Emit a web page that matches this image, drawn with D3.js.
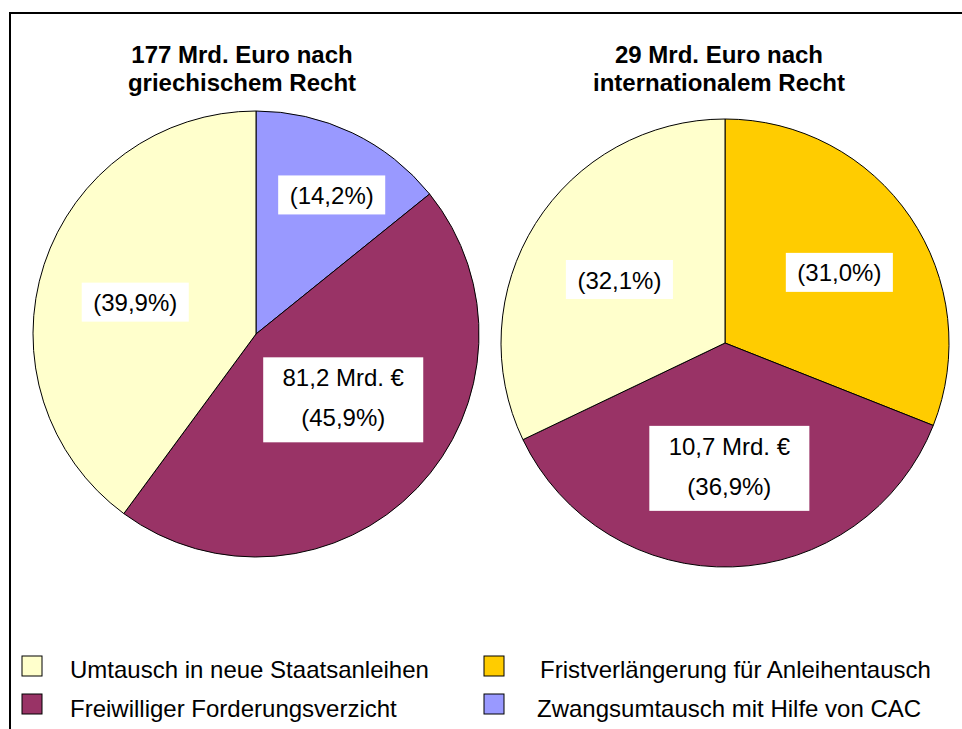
<!DOCTYPE html>
<html>
<head>
<meta charset="utf-8">
<script src="https://cdn.jsdelivr.net/npm/d3@7"></script>
<style>
  body { margin: 0; background: #fff; }
  svg { display: block; font-family: Arial, "Liberation Sans", sans-serif; }
</style>
</head>
<body>
<svg id="chart" width="962" height="729"></svg>
<script>
// categories (legend order)
const categories = [
  'Umtausch in neue Staatsanleihen',
  'Fristverlängerung für Anleihentausch',
  'Freiwilliger Forderungsverzicht',
  'Zwangsumtausch mit Hilfe von CAC',
];
const colors = {
  'Umtausch in neue Staatsanleihen': '#ffffcc',
  'Fristverlängerung für Anleihentausch': '#ffcc00',
  'Freiwilliger Forderungsverzicht': '#993366',
  'Zwangsumtausch mit Hilfe von CAC': '#9999ff',
};

// pie 1: griechisches Recht (clockwise from 12 o'clock)
const greekTitle = ['177 Mrd. Euro nach', 'griechischem Recht'];
const greekCats = ['Zwangsumtausch mit Hilfe von CAC', 'Freiwilliger Forderungsverzicht', 'Umtausch in neue Staatsanleihen'];
const greekShares = [14.2, 45.9, 39.9];
const greekAmounts = [null, '81,2 Mrd. €', null];

// pie 2: internationales Recht
const intlTitle = ['29 Mrd. Euro nach', 'internationalem Recht'];
const intlCats = ['Fristverlängerung für Anleihentausch', 'Freiwilliger Forderungsverzicht', 'Umtausch in neue Staatsanleihen'];
const intlShares = [31.0, 36.9, 32.1];
const intlAmounts = [null, '10,7 Mrd. €', null];

const svg = d3.select('#chart');
const fmt = (v) => '(' + v.toFixed(1).replace('.', ',') + '%)';

// frame lines (top + left)
svg.append('line').attr('x1', 10).attr('x2', 962).attr('y1', 13).attr('y2', 13)
  .attr('stroke', '#000').attr('stroke-width', 2);
svg.append('line').attr('x1', 10).attr('x2', 10).attr('y1', 12).attr('y2', 729)
  .attr('stroke', '#000').attr('stroke-width', 2);

function drawPie(opts) {
  const { cx, cy, r, titleX, title, cats, shares, amounts, labelAt } = opts;
  const data = cats.map((c, i) => ({ cat: c, value: shares[i], amount: amounts[i], i }));
  const pie = d3.pie().value((d) => d.value).sort(null);
  const arc = d3.arc().innerRadius(0).outerRadius(r);
  const g = svg.append('g').attr('transform', `translate(${cx},${cy})`);

  g.selectAll('path')
    .data(pie(data))
    .join('path')
    .attr('d', arc)
    .attr('fill', (d) => colors[d.data.cat])
    .attr('stroke', '#000')
    .attr('stroke-width', 1);

  const labels = g.selectAll('g.lbl')
    .data(pie(data))
    .join('g')
    .classed('lbl', true)
    .attr('transform', (d) => {
      const [rf, shift] = labelAt[d.data.i];
      const a = (d.startAngle + d.endAngle) / 2 + (shift * Math.PI) / 180;
      return `translate(${Math.sin(a) * r * rf},${-Math.cos(a) * r * rf})`;
    });

  labels.each(function (d) {
    const el = d3.select(this);
    const lines = d.data.amount ? [d.data.amount, fmt(d.data.value)] : [fmt(d.data.value)];
    const rect = el.append('rect').attr('fill', '#fff');
    const txt = el.append('text')
      .attr('text-anchor', 'middle')
      .attr('font-size', 24)
      .attr('fill', '#000');
    if (lines.length === 1) {
      txt.append('tspan').attr('x', 0).attr('y', 9).text(lines[0]);
      const w = txt.node().getBBox().width + 23;
      rect.attr('x', -w / 2).attr('y', -19.5).attr('width', w).attr('height', 39);
    } else {
      txt.append('tspan').attr('x', 0).attr('y', -13.5).text(lines[0]);
      txt.append('tspan').attr('x', 0).attr('y', 26.5).text(lines[1]);
      const w = txt.node().getBBox().width + 38;
      rect.attr('x', -w / 2).attr('y', -42.5).attr('width', w).attr('height', 85);
    }
  });

  const t = svg.append('text')
    .attr('text-anchor', 'middle')
    .attr('font-size', 24)
    .attr('font-weight', 'bold')
    .attr('fill', '#000');
  title.forEach((line, k) => {
    t.append('tspan').attr('x', titleX).attr('y', 63 + k * 28).text(line);
  });
}

drawPie({
  cx: 256, cy: 334, r: 223, titleX: 242,
  title: greekTitle, cats: greekCats, shares: greekShares, amounts: greekAmounts,
  labelAt: [[0.71, 3], [0.49, -6.7], [0.56, -3.4]],
});
drawPie({
  cx: 725, cy: 343, r: 224, titleX: 719,
  title: intlTitle, cats: intlCats, shares: intlShares, amounts: intlAmounts,
  labelAt: [[0.60, 2.5], [0.56, 0], [0.55, -1.2]],
});

// legend: two columns, two rows
const legendItems = [
  { cat: categories[0], sx: 22, tx: 70, row: 0 },
  { cat: categories[2], sx: 22, tx: 70, row: 1 },
  { cat: categories[1], sx: 484, tx: 540, row: 0 },
  { cat: categories[3], sx: 484, tx: 537, row: 1 },
];
const lg = svg.append('g').selectAll('g').data(legendItems).join('g');
lg.append('rect')
  .attr('x', (d) => d.sx)
  .attr('y', (d) => 656 + d.row * 38)
  .attr('width', 20).attr('height', 20)
  .attr('fill', (d) => colors[d.cat])
  .attr('stroke', '#000').attr('stroke-width', 1);
lg.append('text')
  .attr('x', (d) => d.tx)
  .attr('y', (d) => 678 + d.row * 39)
  .attr('font-size', 24)
  .attr('fill', '#000')
  .text((d) => d.cat);
</script>
</body>
</html>
